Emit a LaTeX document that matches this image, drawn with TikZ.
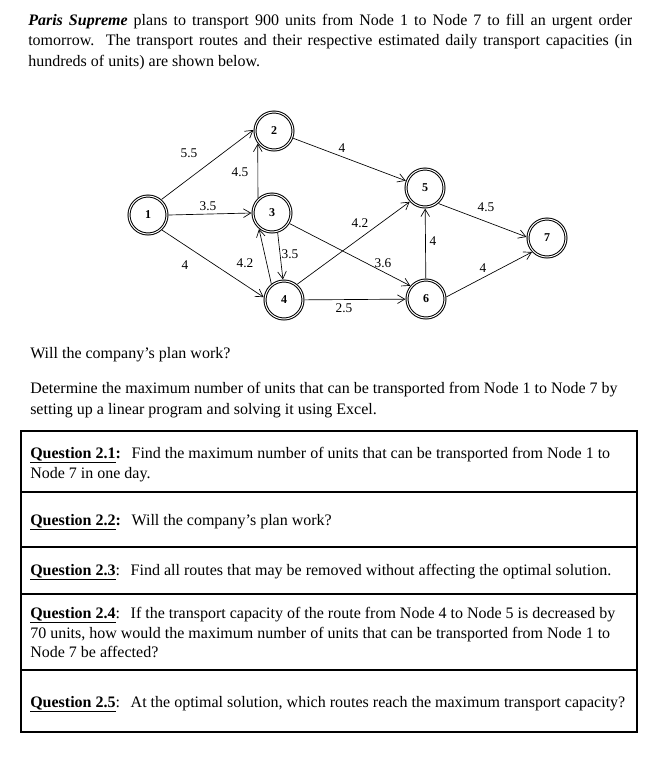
\documentclass[tikz,border=0pt]{standalone}
\usepackage{fontspec}
\setmainfont{Liberation Serif}
\usetikzlibrary{arrows.meta}

\newcommand{\qhead}[1]{\underline{\textbf{Question #1}}}

\tikzset{
	netnode/.style={circle, draw, double, double distance=0.75pt, line width=0.75pt,
		minimum size=28.5pt, inner sep=0pt, outer sep=1.2pt,
		font=\bfseries\fontsize{9}{9}\selectfont},
	caplbl/.style={inner sep=0pt, font=\fontsize{10}{12}\selectfont},
	txt/.style={anchor=base west, inner sep=0pt, font=\fontsize{12}{15.4}\selectfont},
	route/.style={-{Straight Barb[length=5.5pt,width=6.5pt]}, line width=0.5pt},
	rule/.style={line width=0.8pt}
}

\begin{document}
\begin{tikzpicture}[x=0.75pt, y=-0.75pt]
\useasboundingbox (0,0) rectangle (672,758);

% introduction
\node[txt, text width=453pt, align=justify] (intro) at (28,25)
	{\textbf{\textit{Paris Supreme}} plans to transport 900 units from Node 1 to Node 7 to fill an urgent order\linebreak
	tomorrow.\ \ The transport routes and their respective estimated daily transport capacities (in\linebreak
	hundreds of units) are shown below.};

% network
\node[netnode] (n1) at (148,215) {1};
\node[netnode] (n2) at (274,131) {2};
\node[netnode] (n3) at (272,213) {3};
\node[netnode] (n4) at (284,300) {4};
\node[netnode] (n5) at (425,188) {5};
\node[netnode] (n6) at (426,299) {6};
\node[netnode] (n7) at (547,238) {7};

\draw[route] (n1.49) -- (n2.177);
\draw[route] (n1.east) -- (n3.west);
\draw[route] (n1.313) -- (n4.172);
\draw[route] (n3.133) -- (n2.218);
\draw[route] (n4.128) -- (n3.231);
\draw[route] (n3.286) -- (n4.93);
\draw[route] (n2) -- (n5);
\draw[route] (n4.50) -- (n5.222);
\draw[route] (n3.-31) -- (n6.140);
\draw[route] (n4) -- (n6);
\draw[route] (n6) -- (n5);
\draw[route] (n5.311) -- (n7.177);
\draw[route] (n6.6) -- (n7.223);

% capacities
\node[caplbl] (c12) at (189,153) {5.5};
\node[caplbl] (c32) at (240,172) {4.5};
\node[caplbl] (c13) at (208,206) {3.5};
\node[caplbl] (c14) at (185,265) {4};
\node[caplbl] (c43) at (245,263) {4.2};
\node[caplbl] (c34) at (290,254) {3.5};
\node[caplbl] (c25) at (342,148) {4};
\node[caplbl] (c46) at (344,308) {2.5};
\node[caplbl] (c45) at (360,223) {4.2};
\node[caplbl] (c36) at (383,263) {3.6};
\node[caplbl] (c65) at (433,241) {4};
\node[caplbl] (c57) at (486,207) {4.5};
\node[caplbl] (c67) at (483,268) {4};

\node[txt] (ask) at (30,358) {Will the company’s plan work?};
\node[txt] (task1) at (30,393) {Determine the maximum number of units that can be transported from Node 1 to Node 7 by};
\node[txt] (task2) at (30,414) {setting up a linear program and solving it using Excel.};

% questions table
\draw[rule] (21,431) rectangle (637,732);
\foreach \y in {492,547,594,670}
{
	\draw[rule] (21,\y) -- (637,\y);
}
\node[txt] (q1a) at (30,458) {\qhead{2.1}\textbf{:}\hspace{8pt}Find the maximum number of units that can be transported from Node 1 to};
\node[txt] (q1b) at (30,478) {Node 7 in one day.};
\node[txt] (q2) at (30,525) {\qhead{2.2}\textbf{:}\hspace{8pt}Will the company’s plan work?};
\node[txt] (q3) at (30,575) {\qhead{2.3}:\hspace{8pt}Find all routes that may be removed without affecting the optimal solution.};
\node[txt] (q4a) at (30,618) {\qhead{2.4}:\hspace{8pt}If the transport capacity of the route from Node 4 to Node 5 is decreased by};
\node[txt] (q4b) at (30,638) {70 units, how would the maximum number of units that can be transported from Node 1 to};
\node[txt] (q4c) at (30,657) {Node 7 be affected?};
\node[txt] (q5) at (30,707) {\qhead{2.5}:\hspace{8pt}At the optimal solution, which routes reach the maximum transport capacity?};
\end{tikzpicture}
\end{document}
